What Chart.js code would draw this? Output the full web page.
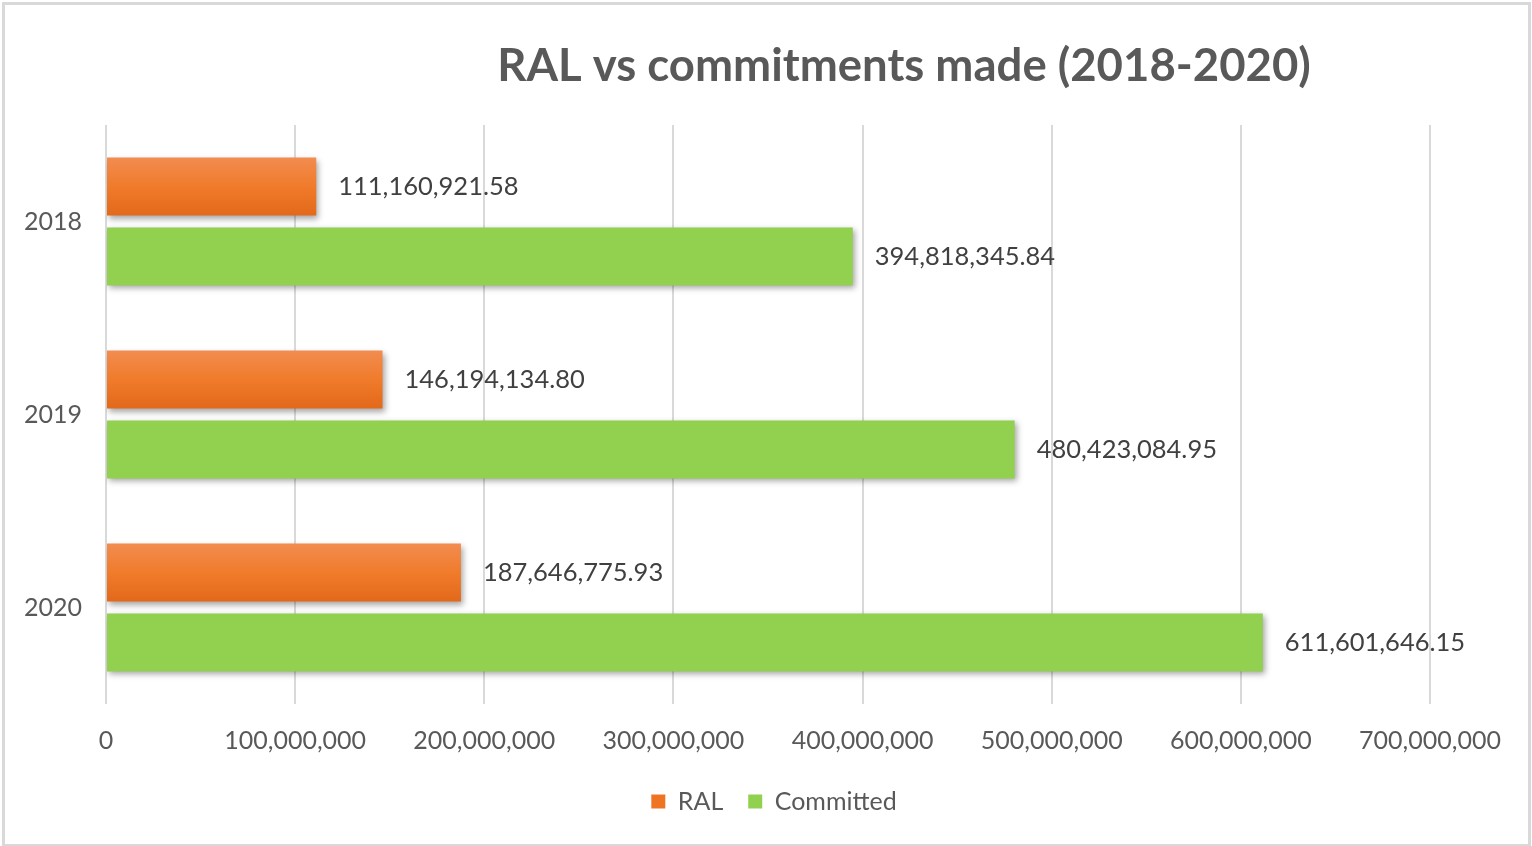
<!DOCTYPE html>
<html>
<head>
<meta charset="utf-8">
<script src="https://cdn.jsdelivr.net/npm/chart.js@4"></script>
<style>
html,body{margin:0;padding:0;background:#fff;}
#wrap{position:relative;width:1532px;height:846px;}
#frame{position:absolute;left:2px;top:2px;width:1523px;height:839px;border:3px solid #d9d9d9;pointer-events:none;}
canvas{position:absolute;left:0;top:0;}
</style>
</head>
<body>
<div id="wrap">
<canvas id="c" width="1532" height="846"></canvas>
<div id="frame"></div>
</div>
<script>
const title = 'RAL vs commitments made (2018-2020)';
const categories = ['2018', '2019', '2020'];
const ralValues = [111160921.58, 146194134.80, 187646775.93];
const committedValues = [394818345.84, 480423084.95, 611601646.15];
const seriesNames = ['RAL', 'Committed'];
const xTickMax = 700000000;
const xTickStep = 100000000;

const FONT = 'Lato, "Open Sans", sans-serif';
const TXT = '#595959';

const fmt2 = v => v.toLocaleString('en-US', {minimumFractionDigits: 2, maximumFractionDigits: 2});

const titlePlugin = {
  id: 'customTitle',
  afterLayout(chart) {
    if (chart.legend) { chart.legend.left += 59; chart.legend.right += 59; }
  },
  afterDraw(chart) {
    const ctx = chart.ctx;
    ctx.save();
    ctx.font = 'bold 45.5px ' + FONT;
    ctx.fillStyle = TXT;
    ctx.textAlign = 'center';
    ctx.textBaseline = 'middle';
    ctx.fillText(title, 904, 66);
    ctx.restore();
  }
};

const barStyle = {
  id: 'barStyle',
  beforeDatasetsDraw(chart) {
    const ctx = chart.ctx;
    const meta0 = chart.getDatasetMeta(0);
    meta0.data.forEach(el => {
      const top = el.y - el.height / 2, bot = el.y + el.height / 2;
      const g = ctx.createLinearGradient(0, top, 0, bot);
      g.addColorStop(0, '#f28c50');
      g.addColorStop(0.5, '#f07b2b');
      g.addColorStop(1, '#e3681a');
      el.options = Object.assign({}, el.options, {backgroundColor: g});
    });
    ctx.save();
    ctx.shadowColor = 'rgba(0,0,0,0.35)';
    ctx.shadowBlur = 6;
    ctx.shadowOffsetX = 2;
    ctx.shadowOffsetY = 3;
  },
  afterDatasetsDraw(chart) {
    const ctx = chart.ctx;
    ctx.restore();
    ctx.save();
    ctx.font = '25.5px ' + FONT;
    ctx.fillStyle = '#404040';
    ctx.textAlign = 'left';
    ctx.textBaseline = 'middle';
    chart.data.datasets.forEach((ds, di) => {
      chart.getDatasetMeta(di).data.forEach((el, i) => {
        ctx.fillText(fmt2(ds.data[i]), el.x + 22, el.y);
      });
    });
    ctx.restore();
  }
};

new Chart(document.getElementById('c'), {
  type: 'bar',
  data: {
    labels: categories,
    datasets: [
      {label: seriesNames[0], data: ralValues, backgroundColor: () => '#f07b2b', categoryPercentage: 0.7235, barPercentage: 0.83},
      {label: seriesNames[1], data: committedValues, backgroundColor: '#92d050', categoryPercentage: 0.7235, barPercentage: 0.83}
    ]
  },
  options: {
    indexAxis: 'y',
    responsive: false,
    animation: false,
    devicePixelRatio: 1,
    layout: {padding: {left: 0, right: 102, top: 125, bottom: 22}},
    scales: {
      x: {
        min: 0, max: xTickMax,
        ticks: {stepSize: xTickStep, color: TXT, font: {family: FONT, size: 25}, padding: 22,
          callback: v => v.toLocaleString('en-US')},
        grid: {color: '#d9d9d9', lineWidth: 2, drawTicks: false},
        border: {display: false},
        afterFit: s => { s.height = 60; }
      },
      y: {
        ticks: {color: TXT, font: {family: FONT, size: 25}, padding: 24},
        grid: {display: false, drawTicks: false},
        border: {display: false},
        afterFit: s => { s.width = 106; }
      }
    },
    plugins: {
      legend: {
        position: 'bottom',
        labels: {boxWidth: 14, boxHeight: 14, padding: 25, color: TXT, font: {family: FONT, size: 25},
          generateLabels: chart => chart.data.datasets.map((ds, i) => ({
            text: ds.label, fillStyle: i === 0 ? '#ee7424' : '#92d050', strokeStyle: 'rgba(0,0,0,0)', lineWidth: 0, datasetIndex: i, fontColor: TXT
          }))
        }
      },
      title: {display: false},
      tooltip: {enabled: false}
    }
  },
  plugins: [titlePlugin, barStyle]
});
</script>
</body>
</html>
